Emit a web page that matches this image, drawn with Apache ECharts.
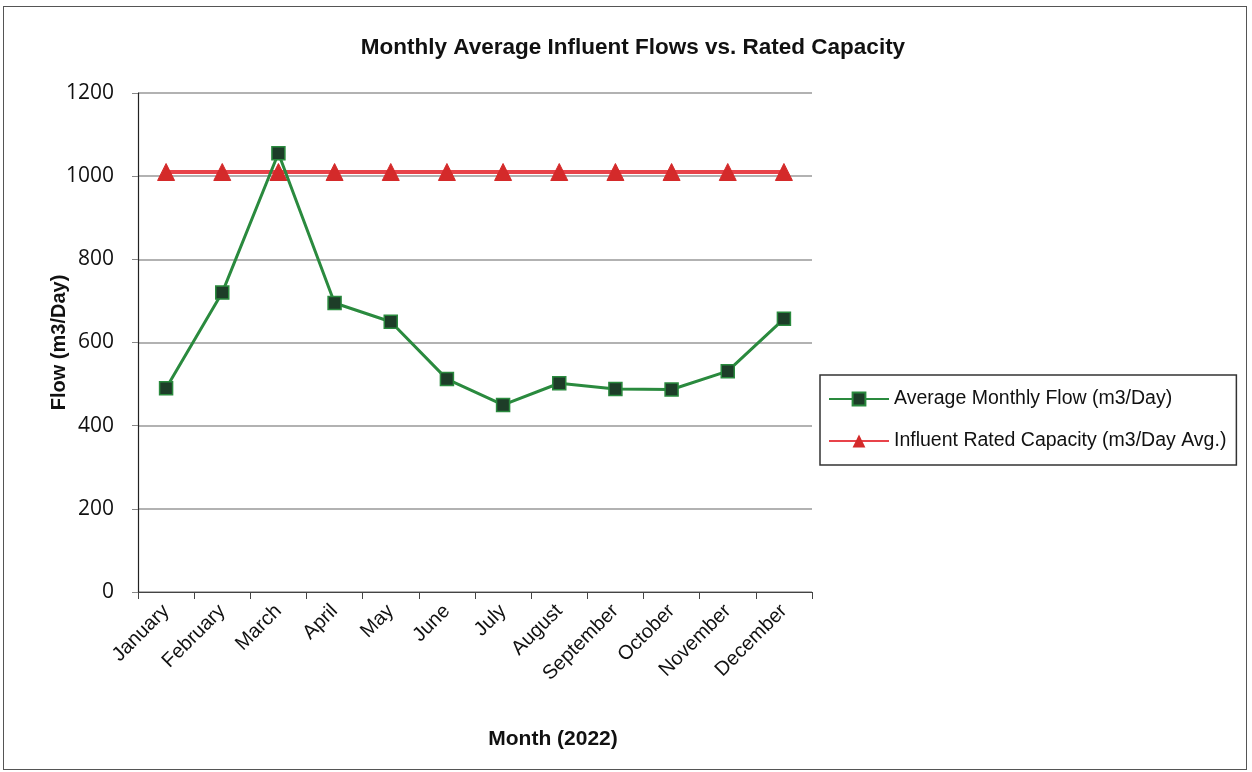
<!DOCTYPE html>
<html><head><meta charset="utf-8">
<script src="https://cdn.jsdelivr.net/npm/echarts@6/dist/echarts.min.js"></script>
<style>html,body{margin:0;padding:0;background:#fff}#c{width:1252px;height:772px}
#frame{position:absolute;left:3px;top:6px;width:1244px;height:764px;border:1.5px solid #555;box-sizing:border-box;pointer-events:none}</style>
</head><body><div id="c"></div><div id="frame"></div>
<script>
const months = ['January','February','March','April','May','June','July','August','September','October','November','December'];
const avgFlow = [490, 720, 1055, 695, 650, 512, 450, 502, 488, 487, 531, 657];
const ratedCapacity = [1010,1010,1010,1010,1010,1010,1010,1010,1010,1010,1010,1010];
const yTicks = {min: 0, max: 1200, interval: 200};

const chart = echarts.init(document.getElementById('c'));
chart.setOption({
  animation: false,
  title: {
    text: 'Monthly Average Influent Flows vs. Rated Capacity',
    left: 628, top: 31, textAlign: 'center',
    textStyle: {fontFamily: '"Liberation Sans", Arial', fontWeight: 'bold', fontSize: 22.5, color: '#111'}
  },
  grid: {left: 138, right: 440, top: 93, bottom: 180},
  legend: {
    orient: 'vertical', left: 820, top: 375,
    padding: [14, 10, 14, 8], itemGap: 22,
    borderColor: '#333', borderWidth: 1.5,
    itemWidth: 60, itemHeight: 16,
    textStyle: {fontFamily: '"Liberation Sans", Arial', fontSize: 19.5, color: '#111'}
  },
  xAxis: {
    type: 'category', data: months, boundaryGap: true,
    axisLine: {lineStyle: {color: '#444', width: 1}},
    axisTick: {show: true, length: 7, lineStyle: {color: '#444'}},
    axisLabel: {rotate: 45, fontFamily: '"Liberation Sans", Arial', fontSize: 20, color: '#111', margin: 16, interval: 0},
    name: 'Month (2022)', nameLocation: 'middle', nameGap: 137, nameMoveOverlap: false,
    nameTextStyle: {fontFamily: '"Liberation Sans", Arial', fontWeight: 'bold', fontSize: 21, color: '#111', padding: [0, 0, 0, 156]}
  },
  yAxis: {
    type: 'value', min: yTicks.min, max: yTicks.max, interval: yTicks.interval,
    axisLine: {show: true, lineStyle: {color: '#222', width: 1.2}},
    axisTick: {show: true, length: 6, lineStyle: {color: '#888'}},
    axisLabel: {fontFamily: '"Open Sans", "Noto Sans", sans-serif', fontSize: 21, color: '#111', margin: 24, formatter: v => String(v)},
    splitLine: {lineStyle: {color: '#999', width: 1.5}},
    name: 'Flow (m3/Day)', nameLocation: 'middle', nameGap: 69, nameMoveOverlap: false,
    nameTextStyle: {fontFamily: '"Liberation Sans", Arial', fontWeight: 'bold', fontSize: 20, color: '#111'}
  },
  series: [
    {
      name: 'Average Monthly Flow (m3/Day)', type: 'line', data: avgFlow,
      symbol: 'rect', symbolSize: 13,
      lineStyle: {color: '#2a8a3e', width: 3},
      itemStyle: {color: '#1d3d28', borderColor: '#2a8a3e', borderWidth: 1.5},
      z: 3
    },
    {
      name: 'Influent Rated Capacity (m3/Day Avg.)', type: 'line', data: ratedCapacity,
      symbol: 'triangle', symbolSize: 17,
      lineStyle: {color: '#e8434a', width: 4},
      itemStyle: {color: '#d42a2a', borderColor: '#d42a2a'},
      z: 2
    }
  ]
});
</script></body></html>
